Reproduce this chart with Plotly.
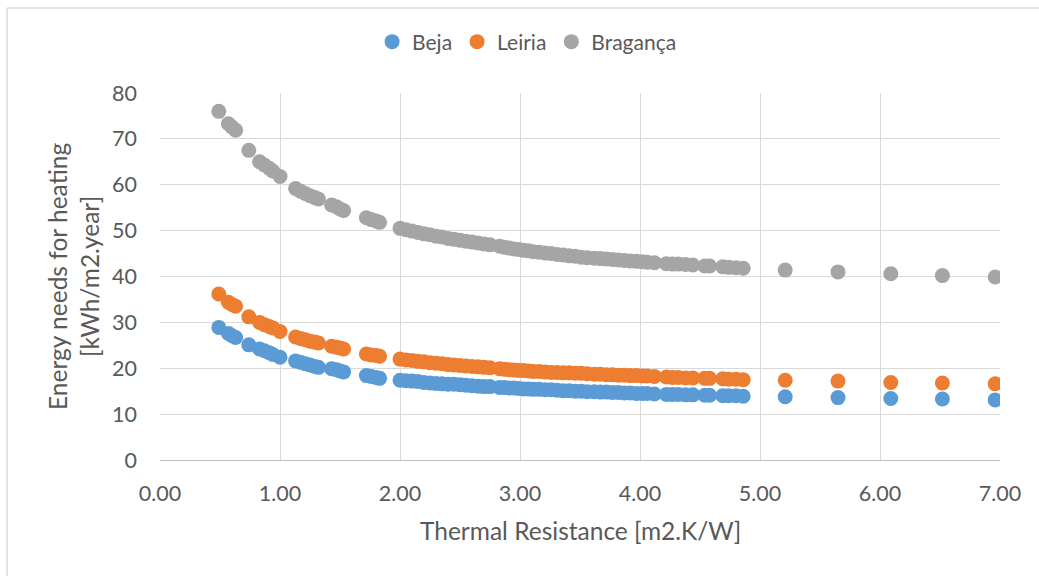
import plotly.graph_objects as go

# Thermal resistance values [m2.K/W]
thermal_resistance = [
    0.49, 0.57, 0.60, 0.63, 0.74, 0.83, 0.87, 0.91, 0.94, 1.00,
    1.13, 1.17, 1.21, 1.25, 1.29, 1.32, 1.43, 1.47, 1.50, 1.53,
    1.72, 1.76, 1.80, 1.83,
    2.00, 2.05, 2.10, 2.15, 2.20, 2.25, 2.30, 2.35, 2.40, 2.45, 2.50, 2.55, 2.60, 2.65, 2.70, 2.75,
    2.83, 2.87, 2.91, 2.95, 2.99, 3.03, 3.07, 3.11,
    3.16, 3.21, 3.26, 3.31, 3.36, 3.41, 3.46, 3.51, 3.56,
    3.62, 3.67, 3.72, 3.77, 3.82, 3.87, 3.92, 3.97, 4.02, 4.06,
    4.12,
    4.22, 4.27, 4.32, 4.38, 4.44,
    4.54, 4.58,
    4.69, 4.74, 4.80, 4.86,
    5.21, 5.65, 6.09, 6.52, 6.96,
]

beja = [
    28.9, 27.6, 27.1, 26.7, 25.1, 24.2, 23.8, 23.4, 23.0, 22.4,
    21.6, 21.3, 21.0, 20.7, 20.4, 20.2, 19.9, 19.7, 19.4, 19.2,
    18.4, 18.2, 18.0, 17.8,
    17.4, 17.3, 17.2, 17.1, 16.9, 16.8, 16.7, 16.6, 16.5, 16.5, 16.4, 16.3, 16.2, 16.1, 16.0, 16.0,
    15.8, 15.8, 15.7, 15.7, 15.6, 15.5, 15.5, 15.4,
    15.4, 15.3, 15.3, 15.2, 15.1, 15.1, 15.0, 15.0, 14.9,
    14.9, 14.8, 14.8, 14.7, 14.7, 14.6, 14.6, 14.5, 14.5, 14.5,
    14.4,
    14.3, 14.3, 14.3, 14.2, 14.2,
    14.1, 14.1,
    14.0, 14.0, 14.0, 13.9,
    13.8, 13.6, 13.4, 13.3, 13.1,
]

leiria = [
    36.2, 34.4, 33.9, 33.5, 31.2, 30.0, 29.5, 29.1, 28.8, 28.0,
    26.8, 26.5, 26.2, 25.9, 25.7, 25.5, 24.8, 24.6, 24.4, 24.2,
    23.1, 22.9, 22.8, 22.6,
    22.0, 21.8, 21.7, 21.5, 21.4, 21.2, 21.1, 21.0, 20.8, 20.7, 20.6, 20.5, 20.4, 20.3, 20.2, 20.1,
    19.9, 19.8, 19.7, 19.6, 19.5, 19.5, 19.4, 19.3,
    19.3, 19.2, 19.1, 19.1, 19.0, 19.0, 18.9, 18.9, 18.8,
    18.7, 18.7, 18.6, 18.6, 18.5, 18.5, 18.4, 18.4, 18.3, 18.3,
    18.2,
    18.1, 18.0, 18.0, 17.9, 17.9,
    17.8, 17.8,
    17.7, 17.6, 17.6, 17.5,
    17.4, 17.2, 16.9, 16.8, 16.6,
]

braganca = [
    76.0, 73.3, 72.6, 71.9, 67.5, 65.0, 64.3, 63.6, 63.0, 61.8,
    59.2, 58.6, 58.1, 57.6, 57.2, 56.9, 55.6, 55.2, 54.7, 54.4,
    52.8, 52.4, 52.1, 51.8,
    50.5, 50.2, 49.9, 49.6, 49.3, 49.1, 48.8, 48.6, 48.3, 48.1, 47.9, 47.7, 47.5, 47.3, 47.1, 46.9,
    46.6, 46.4, 46.2, 46.0, 45.9, 45.7, 45.6, 45.4,
    45.3, 45.1, 45.0, 44.8, 44.7, 44.5, 44.4, 44.2, 44.1,
    44.0, 43.9, 43.8, 43.7, 43.6, 43.5, 43.4, 43.3, 43.2, 43.1,
    43.0,
    42.8, 42.7, 42.7, 42.6, 42.5,
    42.3, 42.3,
    42.1, 42.0, 41.9, 41.8,
    41.4, 41.0, 40.6, 40.2, 39.9,
]

series_names = ["Beja", "Leiria", "Bragança"]
series_values = [beja, leiria, braganca]
series_colors = ["#5B9BD5", "#ED7D31", "#A5A5A5"]

x_tick_vals = [0, 1, 2, 3, 4, 5, 6, 7]
x_tick_text = ["0.00", "1.00", "2.00", "3.00", "4.00", "5.00", "6.00", "7.00"]
y_tick_vals = [0, 10, 20, 30, 40, 50, 60, 70, 80]

FONT = "Lato"
TXT = "#595959"

fig = go.Figure()
for name, vals, col in zip(series_names, series_values, series_colors):
    fig.add_trace(go.Scatter(
        x=thermal_resistance, y=vals, mode="markers", name=name,
        marker=dict(size=15, color=col, line=dict(width=0)),
    ))

fig.update_layout(
    template="none",
    width=1039, height=576,
    margin=dict(l=160, r=39, t=93, b=116, autoexpand=False),
    paper_bgcolor="white", plot_bgcolor="white",
    font=dict(family=FONT, color=TXT, size=21),
    showlegend=True,
    legend=dict(
        orientation="h", x=0.437, y=1.139, xanchor="center", yanchor="middle",
        font=dict(family=FONT, size=21, color=TXT),
        itemwidth=30, tracegroupgap=0, bgcolor="rgba(0,0,0,0)",
    ),
    xaxis=dict(
        range=[0, 7], tickvals=x_tick_vals, ticktext=x_tick_text,
        showgrid=True, gridcolor="#d9d9d9", gridwidth=1,
        showline=True, linecolor="#bfbfbf", linewidth=1, mirror=False,
        zeroline=False, ticks="", ticklabelstandoff=14,
        tickfont=dict(family=FONT, size=21.5, color=TXT),
        automargin=False,
    ),
    yaxis=dict(
        range=[0, 80], tickvals=y_tick_vals,
        showgrid=True, gridcolor="#d9d9d9", gridwidth=1,
        showline=False, zeroline=False, ticks="", ticklabelstandoff=22,
        tickfont=dict(family=FONT, size=21.5, color=TXT),
        automargin=False,
    ),
    annotations=[
        dict(text="Thermal Resistance [m2.K/W]", xref="paper", yref="paper",
             x=0.5, y=-0.191, xanchor="center", yanchor="middle", showarrow=False,
             font=dict(family=FONT, size=24.5, color=TXT)),
        dict(text="Energy needs for heating<br>[kWh/m2.year]", xref="paper", yref="paper",
             x=-0.103, y=0.5, xanchor="center", yanchor="middle", showarrow=False,
             textangle=-90, font=dict(family=FONT, size=24.5, color=TXT)),
    ],
    shapes=[
        dict(type="line", xref="paper", yref="paper", x0=-0.182, x1=-0.182, y0=-0.5, y1=1.2316,
             line=dict(color="#d9d9d9", width=1.5)),
        dict(type="line", xref="paper", yref="paper", x0=-0.182, x1=1.2, y0=1.2316, y1=1.2316,
             line=dict(color="#d9d9d9", width=1.5)),
    ],
)

fig.write_html("out.html")
